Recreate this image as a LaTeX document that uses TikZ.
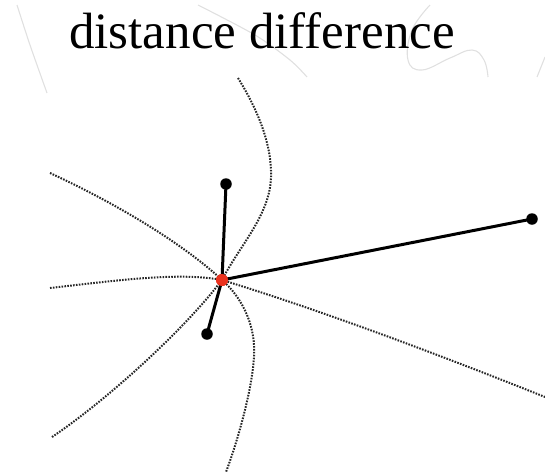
\documentclass[tikz,border=0pt]{standalone}
\usepackage{fontspec}
\setmainfont{Liberation Serif}
\begin{document}
\begin{tikzpicture}[x=1pt,y=-1pt,
  hyper/.style={line width=2pt, dash pattern=on 1.6pt off 1.3pt, black!85},
  faint/.style={line width=1.1pt, black!12},
  solidseg/.style={line width=3pt, black},
  sensor/.style={circle, fill=black, inner sep=0pt, minimum size=11.5pt},
  target/.style={circle, fill={rgb,255:red,235;green,50;blue,30}, inner sep=0pt, minimum size=12pt}]
\useasboundingbox (0,0) rectangle (545,474);
% faint background strokes
\draw[faint] plot[smooth] coordinates {(17,5) (30,45) (47,93)};
\draw[faint] plot[smooth] coordinates {(198,5) (255,35) (290,60) (307,77)};
\draw[faint] plot[smooth, tension=0.7] coordinates {(430,5) (412,30) (408,60) (422,70) (450,58) (472,50) (484,60) (488,77)};
\draw[faint] (537,77) -- (545,57);
% title
\node[anchor=base, font=\fontsize{51}{60}\selectfont, inner sep=0pt] (title) at (262,48) {distance difference};
% points
\node[target] (c) at (222,280) {};
\node[sensor] (t) at (226,184) {};
\node[sensor] (b) at (207,334) {};
\node[sensor] (r) at (532,219) {};
% free ends of the hyperbola branches
\coordinate (ul) at (50,173);
\coordinate (le) at (50,288);
\coordinate (ll) at (52,437);
\coordinate (tp) at (238,78);
\coordinate (bt) at (226,472);
\coordinate (rt) at (545,397);
% dotted branches
\draw[hyper] (ul) .. controls (130,210) and (190,250) .. (c.center);
\draw[hyper] (le) .. controls (120,280) and (180,272) .. (c.center);
\draw[hyper] (ll) .. controls (100,405) and (180,335) .. (c.center);
\draw[hyper] (tp) .. controls (258,110) and (272,145) .. (271,177) .. controls (270,215) and (240,245) .. (c.center);
\draw[hyper] (c.center) .. controls (245,300) and (256,330) .. (254,357) .. controls (252,390) and (238,440) .. (bt);
\draw[hyper] (c.center) .. controls (320,310) and (440,355) .. (rt);
% solid segments
\draw[solidseg] (c.center) -- (t.center);
\draw[solidseg] (c.center) -- (b.center);
\draw[solidseg] (c.center) -- (r.center);
\node[target] at (c) {};
\end{tikzpicture}
\end{document}
